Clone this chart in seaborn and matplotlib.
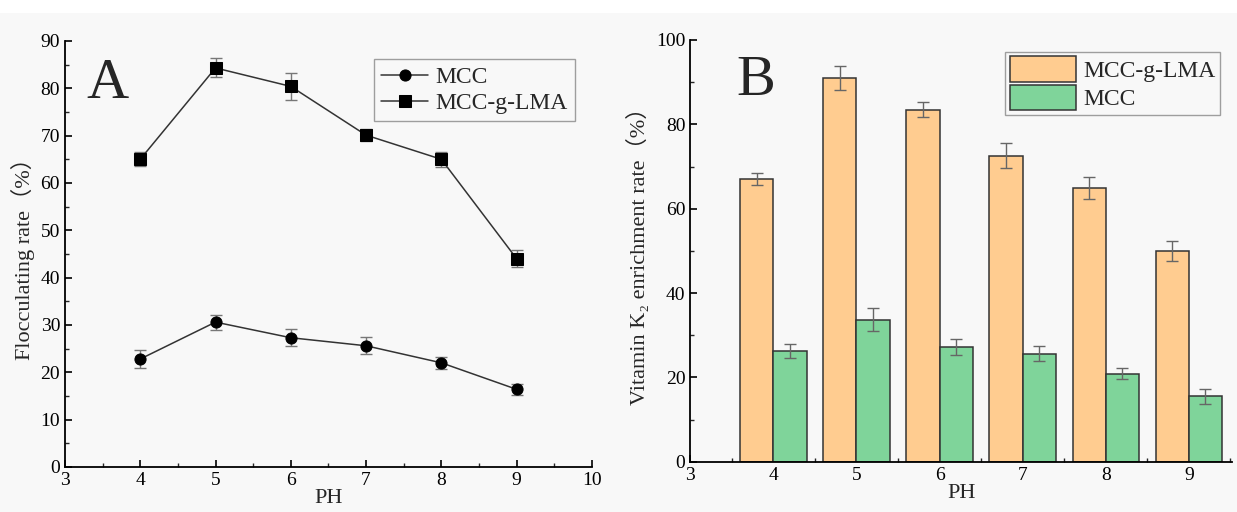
import numpy as np
import pandas as pd
import matplotlib
matplotlib.use("Agg")
import matplotlib.pyplot as plt
import seaborn as sns
from matplotlib.ticker import MultipleLocator, FormatStrFormatter

# Datos
ph = [4, 5, 6, 7, 8, 9]

# Panel A: tasa de floculación
floc_mcc = [22.8, 30.6, 27.3, 25.6, 22.0, 16.4]
floc_mcc_err = [2.0, 1.6, 1.8, 1.8, 1.3, 1.2]
floc_lma = [65.0, 84.3, 80.4, 70.1, 65.0, 44.0]
floc_lma_err = [1.5, 2.0, 2.8, 1.3, 1.6, 1.8]

# Panel B: tasa de enriquecimiento de vitamina K2
enr_lma = [67.0, 91.0, 83.5, 72.6, 65.0, 50.0]
enr_lma_err = [1.5, 2.8, 1.8, 3.0, 2.6, 2.3]
enr_mcc = [26.3, 33.7, 27.3, 25.6, 20.9, 15.5]
enr_mcc_err = [1.7, 2.7, 1.9, 1.8, 1.3, 1.8]

sns.set_style("ticks")
serif = ["Liberation Serif", "DejaVu Serif", "Noto Sans CJK SC"]
plt.rcParams["font.family"] = serif
plt.rcParams["xtick.direction"] = "in"
plt.rcParams["ytick.direction"] = "in"

bg = "#f8f8f8"
fig = plt.figure(figsize=(12.37, 5.12), dpi=100, facecolor=bg)
fig.patches.append(plt.Rectangle((0, 0.975), 1, 0.025, transform=fig.transFigure,
                                 facecolor="white", edgecolor="none", zorder=0))

axA = fig.add_axes([0.0525, 0.088, 0.426, 0.832])
axB = fig.add_axes([0.558, 0.098, 0.438, 0.824])

for ax in (axA, axB):
    ax.set_facecolor(bg)
    sns.despine(ax=ax)
    for s in ("left", "bottom"):
        ax.spines[s].set_linewidth(1.3)
        ax.spines[s].set_color("black")
    ax.tick_params(which="major", length=5, width=1.2, labelsize=14, colors="black")
    ax.tick_params(which="minor", length=3, width=1.0)

# ---------- Panel A ----------
dfA = pd.DataFrame({
    "PH": ph * 2,
    "rate": floc_mcc + floc_lma,
    "serie": ["MCC"] * 6 + ["MCC-g-LMA"] * 6,
})
sns.lineplot(data=dfA, x="PH", y="rate", hue="serie", style="serie",
             markers={"MCC": "o", "MCC-g-LMA": "s"}, dashes=False,
             palette={"MCC": "#333333", "MCC-g-LMA": "#333333"},
             markersize=8, markerfacecolor="black", markeredgecolor="black",
             linewidth=1.1, ax=axA)
axA.errorbar(ph, floc_mcc, yerr=floc_mcc_err, fmt="none", ecolor="#777777",
             capsize=4, elinewidth=1, capthick=1, zorder=1)
axA.errorbar(ph, floc_lma, yerr=floc_lma_err, fmt="none", ecolor="#777777",
             capsize=4, elinewidth=1, capthick=1, zorder=1)
axA.set_xlim(3, 10)
axA.set_ylim(0, 90)
axA.xaxis.set_major_locator(MultipleLocator(1))
axA.xaxis.set_minor_locator(MultipleLocator(0.5))
axA.yaxis.set_major_locator(MultipleLocator(10))
axA.yaxis.set_minor_locator(MultipleLocator(5))
axA.set_xlabel("PH", fontsize=16, labelpad=0)
axA.set_ylabel("Flocculating rate\uff08%\uff09", fontsize=16, labelpad=4)
axA.text(0.04, 0.96, "A", transform=axA.transAxes, fontsize=42, va="top", ha="left")
legA = axA.legend(loc="upper right", bbox_to_anchor=(0.99, 0.985), fontsize=17,
                  frameon=True, fancybox=False, edgecolor="#888888",
                  handlelength=2.0, borderpad=0.3, labelspacing=0.2, handletextpad=0.3)
legA.get_frame().set_facecolor(bg)
legA.get_frame().set_linewidth(1.0)

# ---------- Panel B ----------
dfB = pd.DataFrame({
    "PH": ph * 2,
    "rate": enr_lma + enr_mcc,
    "serie": ["MCC-g-LMA"] * 6 + ["MCC"] * 6,
})
sns.barplot(data=dfB, x="PH", y="rate", hue="serie", native_scale=True,
            palette={"MCC-g-LMA": "#ffcc90", "MCC": "#7fd49a"}, saturation=1,
            edgecolor="#333333", linewidth=1.1, width=0.8, errorbar=None, ax=axB)
axB.errorbar(np.array(ph) - 0.2, enr_lma, yerr=enr_lma_err, fmt="none",
             ecolor="#666666", capsize=4, elinewidth=1, capthick=1)
axB.errorbar(np.array(ph) + 0.2, enr_mcc, yerr=enr_mcc_err, fmt="none",
             ecolor="#666666", capsize=4, elinewidth=1, capthick=1)
axB.set_xlim(3, 9.52)
axB.set_ylim(0, 100)
axB.xaxis.set_major_locator(MultipleLocator(1))
axB.xaxis.set_minor_locator(MultipleLocator(0.5))
axB.yaxis.set_major_locator(MultipleLocator(20))
axB.yaxis.set_minor_locator(MultipleLocator(10))
axB.xaxis.set_major_formatter(FormatStrFormatter("%d"))
axB.set_xlabel("PH", fontsize=16, labelpad=0)
axB.set_ylabel("Vitamin K\u2082 enrichment rate\uff08%\uff09", fontsize=16, labelpad=4)
axB.text(0.085, 0.965, "B", transform=axB.transAxes, fontsize=42, va="top", ha="left")
legB = axB.legend(loc="upper right", bbox_to_anchor=(1.0, 1.0), fontsize=17,
                  frameon=True, fancybox=False, edgecolor="#888888",
                  handlelength=2.8, handleheight=1.3, borderpad=0.2,
                  labelspacing=0.1, handletextpad=0.3)
legB.get_frame().set_facecolor(bg)
legB.get_frame().set_linewidth(1.0)

fig.savefig("out.png", dpi=100, facecolor=fig.get_facecolor())
